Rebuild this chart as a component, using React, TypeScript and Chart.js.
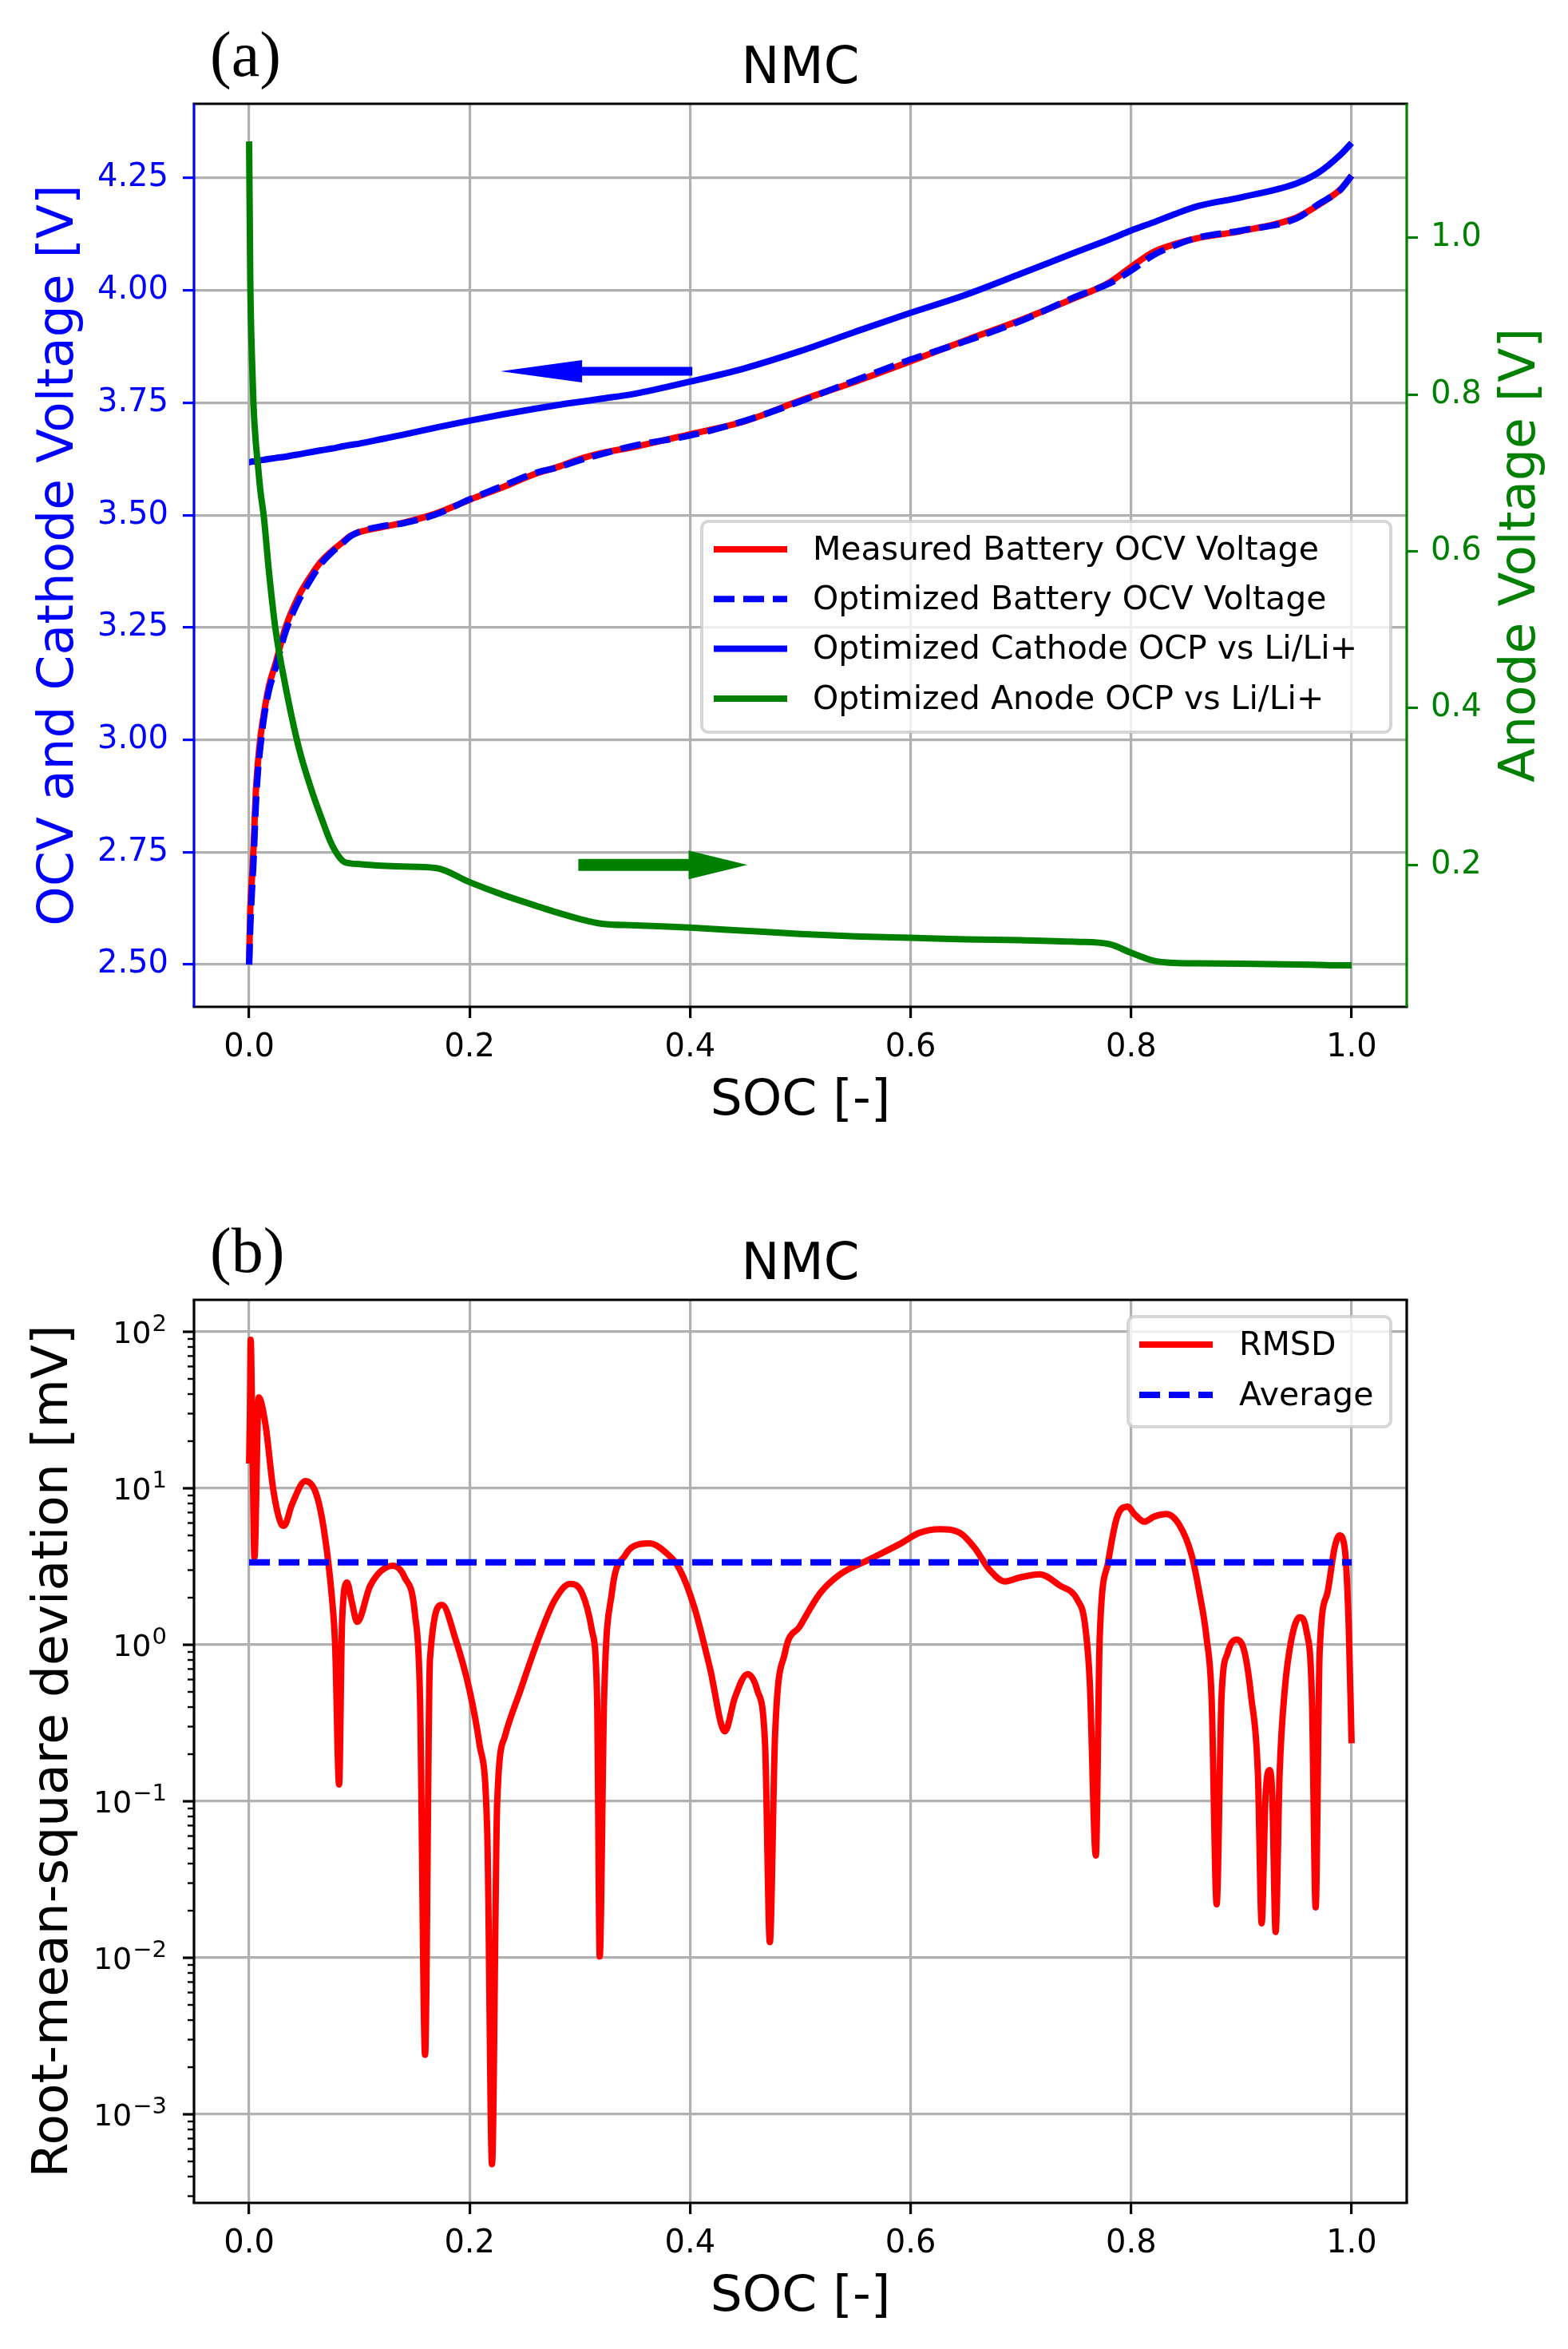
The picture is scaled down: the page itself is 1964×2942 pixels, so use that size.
import { useEffect, useRef } from 'react';
import { Chart, registerables } from 'chart.js';

Chart.register(...registerables);

const FONT = "'DejaVu Sans', sans-serif";
const SERIF = "'Liberation Serif', 'DejaVu Serif', serif";
const RED = '#ff0000';
const BLUE = '#0000ff';
const GREEN = '#008000';
const GRID = '#b0b0b0';

// ---- panel (a): OCV / OCP curves ----
const socA = [0, 0.001, 0.0025, 0.004, 0.006, 0.008, 0.01, 0.0135, 0.018, 0.024, 0.033, 0.045, 0.056, 0.065, 0.075, 0.085, 0.092, 0.1, 0.12, 0.14, 0.17, 0.2, 0.23, 0.26, 0.28, 0.3, 0.32, 0.35, 0.4, 0.45, 0.5, 0.55, 0.6, 0.65, 0.7, 0.75, 0.78, 0.8, 0.82, 0.84, 0.86, 0.9, 0.95, 0.97, 0.99, 1.0];
const measuredOcv = [2.5, 2.62, 2.69, 2.76, 2.88, 2.95, 3.0, 3.06, 3.12, 3.17, 3.25, 3.32, 3.365, 3.396, 3.42, 3.44, 3.454, 3.462, 3.473, 3.483, 3.504, 3.534, 3.562, 3.592, 3.607, 3.625, 3.638, 3.652, 3.68, 3.709, 3.755, 3.797, 3.842, 3.889, 3.934, 3.984, 4.017, 4.052, 4.085, 4.103, 4.116, 4.132, 4.162, 4.19, 4.225, 4.255];
const optimizedOcv = [2.5, 2.58, 2.66, 2.73, 2.85, 2.93, 2.98, 3.05, 3.11, 3.16, 3.24, 3.31, 3.357, 3.391, 3.417, 3.438, 3.453, 3.463, 3.475, 3.482, 3.502, 3.535, 3.565, 3.594, 3.606, 3.622, 3.636, 3.655, 3.677, 3.71, 3.753, 3.8, 3.846, 3.887, 3.932, 3.986, 4.015, 4.044, 4.078, 4.1, 4.117, 4.133, 4.16, 4.192, 4.224, 4.255];
const cathodeOcp = [3.618, 3.618, 3.619, 3.619, 3.62, 3.621, 3.622, 3.623, 3.625, 3.627, 3.63, 3.635, 3.64, 3.644, 3.648, 3.653, 3.656, 3.659, 3.669, 3.679, 3.695, 3.71, 3.724, 3.737, 3.745, 3.752, 3.759, 3.77, 3.797, 3.827, 3.865, 3.908, 3.95, 3.99, 4.037, 4.085, 4.113, 4.133, 4.151, 4.17, 4.187, 4.207, 4.238, 4.262, 4.302, 4.328];
const anodeOcp = [1.123, 0.95, 0.85, 0.785, 0.74, 0.71, 0.68, 0.642, 0.574, 0.5, 0.428, 0.35, 0.298, 0.262, 0.226, 0.205, 0.202, 0.201, 0.199, 0.198, 0.196, 0.178, 0.162, 0.148, 0.139, 0.131, 0.125, 0.123, 0.12, 0.116, 0.112, 0.109, 0.107, 0.105, 0.104, 0.102, 0.099, 0.088, 0.078, 0.075, 0.0745, 0.074, 0.073, 0.0725, 0.072, 0.072];

const socTicks = [0, 0.2, 0.4, 0.6, 0.8, 1.0];
const socTickLabels = ['0.0', '0.2', '0.4', '0.6', '0.8', '1.0'];
const voltTicks = [2.5, 2.75, 3.0, 3.25, 3.5, 3.75, 4.0, 4.25];
const voltTickLabels = ['2.50', '2.75', '3.00', '3.25', '3.50', '3.75', '4.00', '4.25'];
const anodeTicks = [0.2, 0.4, 0.6, 0.8, 1.0];
const anodeTickLabels = ['0.2', '0.4', '0.6', '0.8', '1.0'];

// arrows: [tail soc, head-base soc, tip soc, value]
const cathodeArrow = [0.402, 0.302, 0.228, 3.82];
const anodeArrow = [0.2986, 0.3986, 0.452, 0.2];

// ---- panel (b): RMSD ----
const socB = [0, 0.0007, 0.0014, 0.003, 0.0048, 0.0087, 0.0147, 0.022, 0.0292, 0.0316, 0.0389, 0.051, 0.0606, 0.0679, 0.0751, 0.078, 0.0816, 0.0843, 0.0888, 0.093, 0.098, 0.11, 0.1305, 0.141, 0.1505, 0.155, 0.1596, 0.164, 0.175, 0.187, 0.2, 0.209, 0.216, 0.2203, 0.225, 0.232, 0.246, 0.264, 0.277, 0.291, 0.302, 0.311, 0.3156, 0.318, 0.322, 0.329, 0.341, 0.3545, 0.3635, 0.377, 0.391, 0.404, 0.418, 0.4316, 0.4406, 0.452, 0.461, 0.468, 0.4723, 0.477, 0.486, 0.4995, 0.518, 0.536, 0.563, 0.59, 0.608, 0.6265, 0.6446, 0.658, 0.672, 0.6854, 0.699, 0.717, 0.735, 0.7516, 0.758, 0.7625, 0.768, 0.7715, 0.779, 0.787, 0.797, 0.803, 0.812, 0.821, 0.832, 0.844, 0.855, 0.862, 0.8685, 0.873, 0.8776, 0.882, 0.8876, 0.8957, 0.903, 0.909, 0.915, 0.9184, 0.922, 0.9257, 0.928, 0.9311, 0.9347, 0.9393, 0.9456, 0.953, 0.959, 0.964, 0.9674, 0.971, 0.978, 0.9846, 0.989, 0.9937, 0.9973, 1.0];
const rmsd = [14.4, 30, 89, 20, 3.6, 38, 25.9, 9.7, 5.9, 5.75, 7.9, 11.1, 9.3, 5.4, 2.0, 1.0, 0.128, 1.4, 2.5, 1.9, 1.4, 2.4, 3.2, 2.7, 1.55, 0.46, 0.0024, 0.8, 1.8, 1.1, 0.51, 0.23, 0.063, 0.00048, 0.098, 0.26, 0.51, 1.17, 1.92, 2.45, 2.14, 1.23, 0.46, 0.0102, 0.46, 2.14, 3.72, 4.4, 4.45, 3.94, 2.99, 1.72, 0.71, 0.28, 0.46, 0.65, 0.51, 0.23, 0.0126, 0.26, 0.89, 1.31, 2.14, 2.82, 3.52, 4.4, 5.19, 5.48, 5.19, 4.17, 2.99, 2.54, 2.69, 2.82, 2.4, 1.92, 1.38, 0.58, 0.045, 1.1, 3.33, 6.46, 7.64, 6.84, 6.12, 6.6, 6.84, 5.79, 3.72, 2.14, 1.1, 0.46, 0.022, 0.46, 0.89, 1.08, 0.89, 0.46, 0.15, 0.0166, 0.11, 0.158, 0.11, 0.0146, 0.15, 0.51, 1.1, 1.5, 1.23, 0.46, 0.021, 0.89, 2.14, 4.17, 5.0, 4.17, 1.38, 0.235];
const averageSoc = [0, 1];
const averageRmsd = [3.36, 3.36];
const logExponents = [-3, -2, -1, 0, 1, 2];

const pts = (xs: number[], ys: number[]) => xs.map((x, i) => ({ x, y: ys[i] }));

const decor: any = {
  id: 'decor',
  afterDatasetsDraw(chart: any, _args: any, o: any) {
    const ctx = chart.ctx;
    const a = chart.chartArea;
    ctx.save();
    for (const ar of o.arrows || []) {
      const xs = chart.scales.x;
      const ys = chart.scales[ar.axis];
      const [tail, base, tip, val] = ar.pos;
      const x0 = xs.getPixelForValue(tail);
      const xb = xs.getPixelForValue(base);
      const xt = xs.getPixelForValue(tip);
      const y = ys.getPixelForValue(val);
      ctx.fillStyle = ar.color;
      ctx.beginPath();
      ctx.moveTo(x0, y - ar.shaft / 2);
      ctx.lineTo(xb, y - ar.shaft / 2);
      ctx.lineTo(xb, y - ar.head / 2);
      ctx.lineTo(xt, y);
      ctx.lineTo(xb, y + ar.head / 2);
      ctx.lineTo(xb, y + ar.shaft / 2);
      ctx.lineTo(x0, y + ar.shaft / 2);
      ctx.closePath();
      ctx.fill();
    }
    if (o.log) {
      const s = chart.scales.y;
      ctx.strokeStyle = '#000';
      for (let e = -5; e <= 3; e++) {
        for (let m = 1; m <= 9; m++) {
          const v = m * Math.pow(10, e);
          if (v < s.min || v > s.max) continue;
          const py = s.getPixelForValue(v);
          const len = m === 1 ? 14 : 8;
          ctx.lineWidth = m === 1 ? 3.2 : 2.4;
          ctx.beginPath();
          ctx.moveTo(a.left - len, py);
          ctx.lineTo(a.left, py);
          ctx.stroke();
        }
      }
      ctx.fillStyle = '#000';
      ctx.textAlign = 'right';
      ctx.textBaseline = 'alphabetic';
      for (const e of logExponents) {
        const py = s.getPixelForValue(Math.pow(10, e));
        const exp = e < 0 ? '\u2212' + String(-e) : String(e);
        const right = a.left - 34;
        ctx.font = `29px ${FONT}`;
        const ew = ctx.measureText(exp).width;
        ctx.fillText(exp, right, py - 1);
        ctx.font = `38px ${FONT}`;
        ctx.fillText('10', right - ew - 1, py + 14);
      }
    }
    // spines
    ctx.lineWidth = 3.2;
    const sp = o.spines;
    const line = (x1: number, y1: number, x2: number, y2: number, c: string) => {
      ctx.strokeStyle = c;
      ctx.beginPath();
      ctx.moveTo(x1, y1);
      ctx.lineTo(x2, y2);
      ctx.stroke();
    };
    line(a.left - 1.6, a.top, a.right + 1.6, a.top, sp.top);
    line(a.left - 1.6, a.bottom, a.right + 1.6, a.bottom, sp.bottom);
    line(a.left, a.top, a.left, a.bottom, sp.left);
    line(a.right, a.top, a.right, a.bottom, sp.right);
    ctx.restore();
  },
  afterDraw(chart: any, _args: any, o: any) {
    const ctx = chart.ctx;
    const a = chart.chartArea;
    const cx = (a.left + a.right) / 2;
    const cy = (a.top + a.bottom) / 2;
    ctx.save();
    // legend
    const lg = o.legend;
    ctx.beginPath();
    const r = 8;
    const L = lg.left, T = lg.top, R = lg.left + lg.width, B = lg.top + lg.height;
    ctx.moveTo(L + r, T);
    ctx.arcTo(R, T, R, B, r);
    ctx.arcTo(R, B, L, B, r);
    ctx.arcTo(L, B, L, T, r);
    ctx.arcTo(L, T, R, T, r);
    ctx.closePath();
    ctx.fillStyle = 'rgba(255,255,255,0.8)';
    ctx.fill();
    ctx.strokeStyle = 'rgba(204,204,204,0.8)';
    ctx.lineWidth = 4;
    ctx.stroke();
    chart.data.datasets.forEach((ds: any, i: number) => {
      const y = lg.rowY0 + i * lg.rowStep;
      ctx.strokeStyle = ds.borderColor;
      ctx.lineWidth = 8;
      ctx.setLineDash(ds.borderDash || []);
      ctx.beginPath();
      ctx.moveTo(lg.lineX0, y);
      ctx.lineTo(lg.lineX1, y);
      ctx.stroke();
      ctx.setLineDash([]);
      ctx.fillStyle = '#000';
      ctx.font = `41px ${FONT}`;
      ctx.textAlign = 'left';
      ctx.textBaseline = 'middle';
      ctx.fillText(ds.label, lg.textX, y + 2);
    });
    // panel letter and title
    ctx.textBaseline = 'alphabetic';
    ctx.fillStyle = '#000';
    ctx.font = `80px ${SERIF}`;
    ctx.textAlign = 'left';
    ctx.fillText(o.letter, 263, a.top - 35);
    ctx.font = `64px ${FONT}`;
    ctx.textAlign = 'center';
    ctx.fillText('NMC', cx, a.top - 26);
    // axis labels
    ctx.font = `63px ${FONT}`;
    ctx.fillText('SOC [-]', cx, a.bottom + 135);
    for (const lab of o.yLabels) {
      ctx.save();
      ctx.translate(lab.x, cy);
      ctx.rotate(-Math.PI / 2);
      ctx.fillStyle = lab.color;
      ctx.textAlign = 'center';
      ctx.fillText(lab.text, 0, 0);
      ctx.restore();
    }
    ctx.restore();
  },
};

const tickFont = { family: FONT, size: 40 };

const xScale = (height: number) => ({
  type: 'linear',
  min: -0.05,
  max: 1.05,
  afterBuildTicks: (s: any) => {
    s.ticks = socTicks.map((v) => ({ value: v }));
  },
  afterFit: (s: any) => {
    s.height = height;
  },
  ticks: {
    callback: (_v: any, i: number) => socTickLabels[i],
    font: tickFont,
    color: '#000',
    padding: 14,
    maxRotation: 0,
    autoSkip: false,
  },
  grid: { color: GRID, lineWidth: 3.2, tickColor: '#000', tickLength: 14, tickWidth: 3.2 },
  border: { display: false },
});

export default function App() {
  const refA = useRef<HTMLCanvasElement>(null);
  const refB = useRef<HTMLCanvasElement>(null);

  useEffect(() => {
    const line = { borderWidth: 8, cubicInterpolationMode: 'monotone', borderJoinStyle: 'round', fill: false };
    const chartA = new Chart(refA.current!, {
      type: 'line',
      data: {
        datasets: [
          { label: 'Measured Battery OCV Voltage', data: pts(socA, measuredOcv), borderColor: RED, yAxisID: 'y', order: 4, ...line },
          { label: 'Optimized Battery OCV Voltage', data: pts(socA, optimizedOcv), borderColor: BLUE, borderDash: [26, 11], yAxisID: 'y', order: 3, ...line },
          { label: 'Optimized Cathode OCP vs Li/Li+', data: pts(socA, cathodeOcp), borderColor: BLUE, yAxisID: 'y', order: 2, ...line },
          { label: 'Optimized Anode OCP vs Li/Li+', data: pts(socA, anodeOcp), borderColor: GREEN, yAxisID: 'y2', order: 1, ...line },
        ],
      } as any,
      options: {
        responsive: false,
        animation: false,
        devicePixelRatio: 1,
        elements: { point: { radius: 0 } },
        layout: { padding: { top: 130, left: 0, right: 0, bottom: 0 } },
        plugins: {
          legend: { display: false },
          tooltip: { enabled: false },
          decor: {
            letter: '(a)',
            spines: { top: '#000', bottom: '#000', left: BLUE, right: GREEN },
            arrows: [
              { axis: 'y', pos: cathodeArrow, color: BLUE, shaft: 11, head: 28 },
              { axis: 'y2', pos: anodeArrow, color: GREEN, shaft: 15, head: 36 },
            ],
            legend: { left: 879, top: 653, width: 863, height: 264, rowY0: 688, rowStep: 62.3, lineX0: 894, lineX1: 986, textX: 1018 },
            yLabels: [
              { text: 'OCV and Cathode Voltage [V]', x: 91, color: BLUE },
              { text: 'Anode Voltage [V]', x: 1922, color: GREEN },
            ],
          },
        } as any,
        scales: {
          x: xScale(209),
          y: {
            type: 'linear',
            position: 'left',
            min: 2.406,
            max: 4.415,
            afterBuildTicks: (s: any) => {
              s.ticks = voltTicks.map((v) => ({ value: v }));
            },
            afterFit: (s: any) => {
              s.width = 243;
            },
            ticks: { callback: (_v: any, i: number) => voltTickLabels[i], font: tickFont, color: BLUE, padding: 18 },
            grid: { color: GRID, lineWidth: 3.2, tickColor: BLUE, tickLength: 14, tickWidth: 3.2 },
            border: { display: false },
          },
          y2: {
            type: 'linear',
            position: 'right',
            min: 0.019,
            max: 1.171,
            afterBuildTicks: (s: any) => {
              s.ticks = anodeTicks.map((v) => ({ value: v }));
            },
            afterFit: (s: any) => {
              s.width = 202;
            },
            ticks: { callback: (_v: any, i: number) => anodeTickLabels[i], font: tickFont, color: GREEN, padding: 16 },
            grid: { drawOnChartArea: false, tickColor: GREEN, tickLength: 14, tickWidth: 3.2 },
            border: { display: false },
          },
        } as any,
      },
      plugins: [decor],
    });

    const chartB = new Chart(refB.current!, {
      type: 'line',
      data: {
        datasets: [
          { label: 'RMSD', data: pts(socB, rmsd), borderColor: RED, order: 2, ...line },
          { label: 'Average', data: pts(averageSoc, averageRmsd), borderColor: BLUE, borderDash: [26, 11], order: 1, ...line },
        ],
      } as any,
      options: {
        responsive: false,
        animation: false,
        devicePixelRatio: 1,
        elements: { point: { radius: 0 } },
        layout: { padding: { top: 158, left: 0, right: 202, bottom: 0 } },
        plugins: {
          legend: { display: false },
          tooltip: { enabled: false },
          decor: {
            letter: '(b)',
            log: true,
            spines: { top: '#000', bottom: '#000', left: '#000', right: '#000' },
            arrows: [],
            legend: { left: 1413, top: 179, width: 329, height: 138, rowY0: 214, rowStep: 63, lineX0: 1427, lineX1: 1519, textX: 1552 },
            yLabels: [{ text: 'Root-mean-square deviation [mV]', x: 84, color: '#000' }],
          },
        } as any,
        scales: {
          x: xScale(183),
          y: {
            type: 'logarithmic',
            position: 'left',
            min: Math.pow(10, -3.566),
            max: Math.pow(10, 2.204),
            afterBuildTicks: (s: any) => {
              s.ticks = logExponents.map((e) => ({ value: Math.pow(10, e) }));
            },
            afterFit: (s: any) => {
              s.width = 243;
            },
            ticks: { display: false },
            grid: { color: GRID, lineWidth: 3.2, drawTicks: false },
            border: { display: false },
          },
        } as any,
      },
      plugins: [decor],
    });

    return () => {
      chartA.destroy();
      chartB.destroy();
    };
  }, []);

  return (
    <div style={{ position: 'absolute', left: 0, top: 0, width: 1964, height: 2942, background: '#fff' }}>
      <canvas ref={refA} width={1964} height={1470} style={{ position: 'absolute', left: 0, top: 0, width: 1964, height: 1470 }} />
      <canvas ref={refB} width={1964} height={1472} style={{ position: 'absolute', left: 0, top: 1470, width: 1964, height: 1472 }} />
    </div>
  );
}
